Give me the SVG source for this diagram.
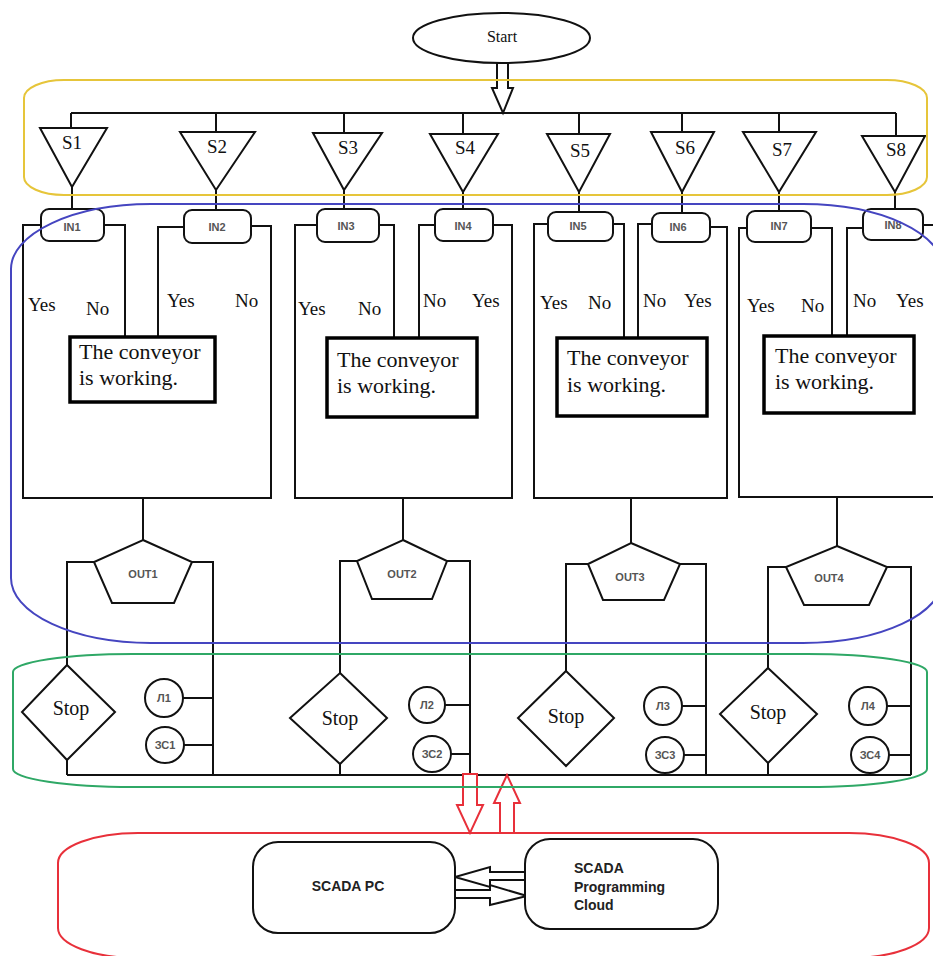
<svg xmlns="http://www.w3.org/2000/svg" width="933" height="956" viewBox="0 0 933 956">
<style>
.k{fill:none;stroke:#111;stroke-width:2}
.n{fill:#fff;stroke:#111;stroke-width:2}
.cv{fill:#fff;stroke:#000;stroke-width:3.5}
.ser{font-family:"Liberation Serif","Times New Roman",serif;fill:#111}
.s{font-size:19px;text-anchor:middle}
.yn{font-size:19px}
.cvt{font-size:22px}
.stop{font-size:20px;text-anchor:middle}
.sm{font-family:"Liberation Sans",Arial,sans-serif;font-size:11px;fill:#555;text-anchor:middle;font-weight:bold}
.bd{font-family:"Liberation Sans",Arial,sans-serif;font-size:14px;fill:#222;font-weight:bold}
.reg{fill:none;stroke-width:2}
</style>
<rect width="933" height="956" fill="#fff"/>
<g id="connectors">
<path class="k" d="M71,113 H896 M71,113 V128 M216,113 V132 M344,113 V133 M463,113 V134 M579,113 V134 M682,113 V132 M779,113 V132 M896,113 V136"/>
<path class="k" d="M72,187 V209 M216,190 V210 M344,190 V209 M463,192 V209 M579,192 V212 M682,192 V213 M779,192 V211 M895,192 V209"/>
<path class="k" d="M41,225 H23 V498 H271 V226 H251 M104,225 H125 V337 M184,227 H158 V337 M143,498 V540"/>
<path class="k" d="M317,225 H295 V498 H512 V225 H493 M379,225 H394 V338 M435,225 H419 V338 M403,498 V540"/>
<path class="k" d="M548,224 H534 V498 H727 V227 H710 M613,224 H624 V338 M652,224 H638 V338 M631,498 V543"/>
<path class="k" d="M747,228 H739 V497 H940 M811,228 H832 V336 M863,228 H847 V336 M923,225 H940 M837,497 V546"/>
<path class="k" d="M94,562 H67 V665 M192,562 H213 V775 M67,760 V775 M67,775 H911 M183,698 H213 M184,745 H213"/>
<path class="k" d="M357,561 H340 V673 M447,561 H470 V775 M340,764 V775 M445,705 H470 M451,754 H470"/>
<path class="k" d="M588,564 H566 V671 M680,564 H706 V775 M682,706 H706 M684,755 H706"/>
<path class="k" d="M786,567 H768 V668 M887,567 H911 V775 M768,763 V775 M887,706 H911 M889,755 H911"/>
<polygon class="n" points="497,63 497,88 492,88 503,113 513,88 508,88 508,63"/>
<polygon fill="#fff" stroke="#e8303a" stroke-width="2" points="463,774 463,805 457,805 470,833 483,805 477,805 477,774"/>
<polygon fill="#fff" stroke="#e8303a" stroke-width="2" points="507,775 494,803 500,803 500,833 514,833 514,803 520,803"/>
<polygon class="n" points="525,872 490,872 490,867 455,877 490,887 490,880 525,880"/>
<polygon class="n" points="455,890 490,890 490,885 527,896 490,905 490,898 455,898"/>
</g>
<g id="start"><ellipse class="n" cx="501.5" cy="38" rx="88.5" ry="25"/><text class="ser" x="502" y="42" font-size="16" text-anchor="middle">Start</text></g>
<g id="S1"><polygon class="n" points="40,128 107,128 72,187"/><text class="ser s" x="72" y="149">S1</text></g>
<g id="S2"><polygon class="n" points="180,132 255,132 216,190"/><text class="ser s" x="217" y="153">S2</text></g>
<g id="S3"><polygon class="n" points="313,133 382,133 344,190"/><text class="ser s" x="348" y="154">S3</text></g>
<g id="S4"><polygon class="n" points="430,134 498,134 463,192"/><text class="ser s" x="465" y="154">S4</text></g>
<g id="S5"><polygon class="n" points="547,134 610,134 579,192"/><text class="ser s" x="580" y="157">S5</text></g>
<g id="S6"><polygon class="n" points="651,132 714,132 682,192"/><text class="ser s" x="685" y="154">S6</text></g>
<g id="S7"><polygon class="n" points="743,132 816,132 779,192"/><text class="ser s" x="782" y="156">S7</text></g>
<g id="S8"><polygon class="n" points="862,136 925,136 895,192"/><text class="ser s" x="896" y="156">S8</text></g>
<g id="IN1"><rect class="n" x="41" y="209" width="63" height="32" rx="8"/><text class="sm" x="72" y="231">IN1</text></g>
<g id="IN2"><rect class="n" x="184" y="210" width="67" height="33" rx="8"/><text class="sm" x="217" y="231">IN2</text></g>
<g id="IN3"><rect class="n" x="317" y="209" width="62" height="33" rx="8"/><text class="sm" x="346" y="230">IN3</text></g>
<g id="IN4"><rect class="n" x="435" y="209" width="58" height="32" rx="8"/><text class="sm" x="463" y="230">IN4</text></g>
<g id="IN5"><rect class="n" x="548" y="212" width="65" height="29" rx="8"/><text class="sm" x="578" y="230">IN5</text></g>
<g id="IN6"><rect class="n" x="652" y="213" width="58" height="29" rx="8"/><text class="sm" x="678" y="231">IN6</text></g>
<g id="IN7"><rect class="n" x="747" y="211" width="64" height="31" rx="8"/><text class="sm" x="779" y="230">IN7</text></g>
<g id="IN8"><rect class="n" x="863" y="209" width="60" height="31" rx="8"/><text class="sm" x="893" y="229">IN8</text></g>
<g id="labels" class="ser yn">
<text x="28" y="311">Yes</text><text x="86" y="315">No</text><text x="167" y="307">Yes</text><text x="235" y="307">No</text>
<text x="298" y="315">Yes</text><text x="358" y="315">No</text><text x="423" y="307">No</text><text x="472" y="307">Yes</text>
<text x="540" y="309">Yes</text><text x="588" y="309">No</text><text x="643" y="307">No</text><text x="684" y="307">Yes</text>
<text x="747" y="312">Yes</text><text x="801" y="312">No</text><text x="853" y="307">No</text><text x="896" y="307">Yes</text>
</g>
<g id="conveyor1"><rect class="cv" x="70" y="337" width="145" height="65"/><text class="ser cvt" x="79" y="359">The conveyor</text><text class="ser cvt" x="79" y="385">is working.</text></g>
<g id="conveyor2"><rect class="cv" x="327" y="338" width="150" height="79"/><text class="ser cvt" x="337" y="367">The conveyor</text><text class="ser cvt" x="337" y="393">is working.</text></g>
<g id="conveyor3"><rect class="cv" x="557" y="338" width="150" height="78"/><text class="ser cvt" x="567" y="365">The conveyor</text><text class="ser cvt" x="567" y="392">is working.</text></g>
<g id="conveyor4"><rect class="cv" x="764" y="336" width="150" height="77"/><text class="ser cvt" x="775" y="363">The conveyor</text><text class="ser cvt" x="775" y="389">is working.</text></g>
<g id="OUT1"><polygon class="n" points="143,540 192,562 174,603 112,603 94,562"/><text class="sm" x="143" y="578" font-size="12">OUT1</text></g>
<g id="OUT2"><polygon class="n" points="403,540 447,561 432,599 372,599 357,561"/><text class="sm" x="402" y="578" font-size="12">OUT2</text></g>
<g id="OUT3"><polygon class="n" points="631,543 680,564 664,600 603,600 588,564"/><text class="sm" x="630" y="581" font-size="12">OUT3</text></g>
<g id="OUT4"><polygon class="n" points="837,546 887,567 869,605 804,605 786,567"/><text class="sm" x="829" y="582" font-size="12">OUT4</text></g>
<g id="stop1"><polygon class="n" points="67,665 115,712 67,760 22,712"/><text class="ser stop" x="71" y="715">Stop</text></g>
<g id="stop2"><polygon class="n" points="340,673 387,718 340,764 290,718"/><text class="ser stop" x="340" y="725">Stop</text></g>
<g id="stop3"><polygon class="n" points="566,671 614,718 566,766 518,718"/><text class="ser stop" x="566" y="723">Stop</text></g>
<g id="stop4"><polygon class="n" points="768,668 817,714 768,763 720,714"/><text class="ser stop" x="768" y="719">Stop</text></g>
<g id="L1"><circle class="n" cx="164" cy="698" r="19"/><text class="sm" x="164" y="702">Л1</text></g>
<g id="ZS1"><ellipse class="n" cx="165" cy="745" rx="19" ry="18"/><text class="sm" x="165" y="749">ЗС1</text></g>
<g id="L2"><circle class="n" cx="427" cy="705" r="18"/><text class="sm" x="427" y="709">Л2</text></g>
<g id="ZS2"><ellipse class="n" cx="432" cy="754" rx="19" ry="18"/><text class="sm" x="432" y="758">ЗС2</text></g>
<g id="L3"><circle class="n" cx="663" cy="706" r="19"/><text class="sm" x="663" y="710">Л3</text></g>
<g id="ZS3"><ellipse class="n" cx="665" cy="755" rx="19" ry="18"/><text class="sm" x="665" y="759">ЗС3</text></g>
<g id="L4"><circle class="n" cx="868" cy="706" r="19"/><text class="sm" x="868" y="710">Л4</text></g>
<g id="ZS4"><ellipse class="n" cx="870" cy="755" rx="19" ry="18"/><text class="sm" x="870" y="759">ЗС4</text></g>
<g id="scada-pc"><rect class="n" x="253" y="842" width="202" height="91" rx="25"/><text class="bd" x="348" y="891" text-anchor="middle">SCADA PC</text></g>
<g id="scada-cloud"><rect class="n" x="525" y="839" width="193" height="90" rx="25"/><text class="bd" x="574" y="873">SCADA</text><text class="bd" x="574" y="892">Programming</text><text class="bd" x="574" y="910">Cloud</text></g>
<g id="regions">
<rect class="reg" stroke="#e6c53a" x="24" y="80" width="903" height="115" rx="40" ry="18"/>
<rect class="reg" stroke="#4545c0" x="11" y="204" width="932" height="439" rx="140" ry="65"/>
<rect class="reg" stroke="#2fa866" x="13" y="654" width="914" height="133" rx="120" ry="18"/>
<rect class="reg" stroke="#e8303a" x="58" y="833" width="871" height="125" rx="80" ry="30"/>
</g>
</svg>
